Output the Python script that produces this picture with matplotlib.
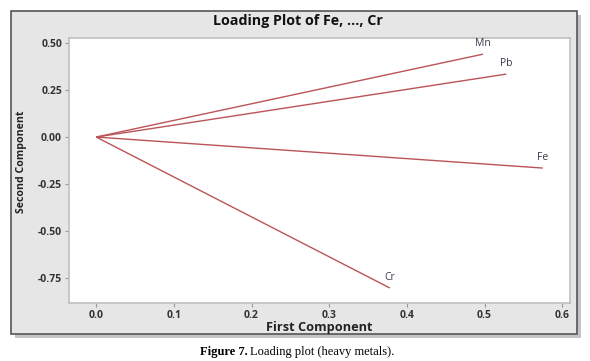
import matplotlib
matplotlib.use("Agg")
import matplotlib.pyplot as plt
from matplotlib.patches import Rectangle

metals = ["Mn", "Pb", "Fe", "Cr"]
first_comp = [0.498, 0.528, 0.575, 0.378]
second_comp = [0.441, 0.335, -0.165, -0.803]
xticks = [0.0, 0.1, 0.2, 0.3, 0.4, 0.5, 0.6]
yticks = [0.50, 0.25, 0.00, -0.25, -0.50, -0.75]

W, H = 590, 361
fig = plt.figure(figsize=(W / 100, H / 100), dpi=100)
fig.patch.set_facecolor("white")

# outer frame with shadow
fx0, fy0, fx1, fy1 = 11, 11, 577, 334
shadow = Rectangle((fx0 / W + 4 / W, 1 - (fy1 + 4) / H), (fx1 - fx0) / W, (fy1 - fy0) / H,
                   transform=fig.transFigure, facecolor="#c4c4c4", edgecolor="none", zorder=0)
fig.patches.append(shadow)
frame = Rectangle((fx0 / W, 1 - fy1 / H), (fx1 - fx0) / W, (fy1 - fy0) / H,
                  transform=fig.transFigure, facecolor="#e6e6e6", edgecolor="#555555",
                  linewidth=1.2, zorder=1)
fig.patches.append(frame)

ax = fig.add_axes([69 / W, 1 - 303 / H, (570 - 69) / W, (303 - 38) / H])
ax.set_zorder(2)
ax.set_facecolor("white")
ax.set_xlim(-0.035, 0.61)
ax.set_ylim(-0.883, 0.527)

line_color = "#bb5459"
for m, x, y in zip(metals, first_comp, second_comp):
    ax.plot([0, x], [0, y], color=line_color, linewidth=1.0, solid_capstyle="butt")
    ax.annotate(m, (x, y), xytext=(0, 3.5), textcoords="offset points",
                ha="center", va="bottom", fontsize=7.5, color="#3a3a4a",
                family="Open Sans")

ax.set_xticks(xticks)
ax.set_xticklabels([f"{t:.1f}" for t in xticks])
ax.set_yticks(yticks)
ax.set_yticklabels([f"{t:.2f}" for t in yticks])
for lab in ax.get_xticklabels() + ax.get_yticklabels():
    lab.set_family("Open Sans")
    lab.set_fontweight("bold")
    lab.set_fontsize(7.5)
    lab.set_color("#333333")
ax.tick_params(axis="both", length=3, width=0.8, color="#999999", pad=2)

for s in ax.spines.values():
    s.set_color("#c0c0c0")
    s.set_linewidth(1.2)

fig.text(298 / W, 1 - 21 / H, "Loading Plot of Fe, ..., Cr", ha="center", va="center",
         fontsize=10.3, fontweight="bold", family="Open Sans", color="#111111")
fig.text(319.5 / W, 1 - 327 / H, "First Component", ha="center", va="center",
         fontsize=9.2, fontweight="bold", family="Open Sans", color="#222222")
fig.text(22 / W, 1 - 162 / H, "Second Component", ha="center", va="center", rotation=90,
         fontsize=7.6, fontweight="bold", family="Open Sans", color="#222222")

fig.text(248 / W, 1 - 352 / H, "Figure 7.", ha="right", va="center", fontsize=9,
         fontweight="bold", family="Liberation Serif", color="black")
fig.text(250 / W, 1 - 352 / H, "Loading plot (heavy metals).", ha="left", va="center",
         fontsize=9, family="Liberation Serif", color="black")

fig.savefig("out.png", dpi=100, facecolor="white")
